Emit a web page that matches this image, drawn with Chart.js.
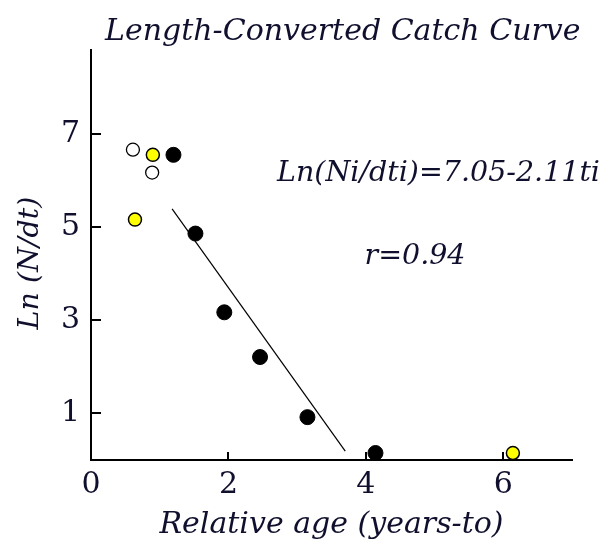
<!DOCTYPE html>
<html>
<head>
<meta charset="utf-8">
<script src="https://cdn.jsdelivr.net/npm/chart.js@4"></script>
<style>
html,body{margin:0;padding:0;background:#fff;}
#c{display:block;}
</style>
</head>
<body>
<canvas id="c" width="608" height="547"></canvas>
<script>
// ---- data ----
const blackAge = [1.20, 1.52, 1.94, 2.46, 3.15, 4.14];
const blackLn  = [6.55, 4.86, 3.17, 2.21, 0.92, 0.15];
const yellowAge = [0.90, 0.64, 6.14];
const yellowLn  = [6.55, 5.16, 0.15];
const openAge = [0.61, 0.89];
const openLn  = [6.66, 6.17];
const fitAge = [1.18, 3.70];
const fitLn  = [5.39, 0.19];
const xTicks = [0, 2, 4, 6];
const yTicks = [1, 3, 5, 7];
const titleText = 'Length-Converted Catch Curve';
const equationText = 'Ln(Ni/dti)=7.05-2.11ti';
const rText = 'r=0.94';
const xTitle = 'Relative age (years-to)';
const yTitle = 'Ln (N/dt)';

const pts = (xs, ys) => xs.map((x, i) => ({x, y: ys[i]}));
const TXT = '#10102e';
const SERIF = '"DejaVu Serif", "Liberation Serif", serif';

const annot = {
  id: 'annot',
  afterDatasetsDraw(chart) {
    const ctx = chart.ctx;
    const xs = chart.scales.x, ys = chart.scales.y;
    ctx.save();
    // inward ticks
    ctx.strokeStyle = '#000';
    ctx.lineWidth = 2;
    ctx.beginPath();
    yTicks.forEach(v => {
      const p = Math.round(ys.getPixelForValue(v));
      ctx.moveTo(xs.left, p); ctx.lineTo(xs.left + 10, p);
    });
    xTicks.forEach(v => {
      if (v === 0) return;
      const p = Math.round(xs.getPixelForValue(v));
      ctx.moveTo(p, ys.bottom); ctx.lineTo(p, ys.bottom - 8);
    });
    ctx.stroke();
    // texts
    ctx.fillStyle = TXT;
    ctx.textBaseline = 'alphabetic';
    ctx.textAlign = 'left';
    ctx.font = 'italic 30px ' + SERIF;
    ctx.fillText(titleText, 105, 40);
    ctx.font = 'italic 28.5px ' + SERIF;
    ctx.fillText(equationText, 277, 181);
    ctx.textAlign = 'center';
    ctx.fillText(rText, 415, 264);
    // y axis title
    ctx.save();
    ctx.translate(31, 263);
    ctx.rotate(-Math.PI / 2);
    ctx.textBaseline = 'middle';
    ctx.textAlign = 'center';
    ctx.font = 'italic 28.5px ' + SERIF;
    ctx.fillText(yTitle, 0, 0);
    ctx.restore();
    ctx.restore();
  }
};

new Chart(document.getElementById('c'), {
  type: 'scatter',
  data: {
    datasets: [
      {
        type: 'line', label: 'fit', data: pts(fitAge, fitLn),
        borderColor: '#000', borderWidth: 1.2, pointRadius: 0, fill: false, clip: false
      },
      {
        label: 'used', data: pts(blackAge, blackLn),
        backgroundColor: '#000', borderColor: '#000', borderWidth: 1, pointRadius: 7.5, clip: false
      },
      {
        label: 'yellow', data: pts(yellowAge, yellowLn),
        backgroundColor: '#ffff00', borderColor: '#000', borderWidth: 1.5, pointRadius: 6.5, clip: false
      },
      {
        label: 'open', data: pts(openAge, openLn),
        backgroundColor: '#fff', borderColor: '#000', borderWidth: 1.3, pointRadius: 6.5, clip: false
      }
    ]
  },
  options: {
    responsive: false,
    animation: false,
    devicePixelRatio: 1,
    layout: { padding: { top: 50, right: 36, left: 0, bottom: 0 } },
    plugins: { legend: { display: false }, tooltip: { enabled: false }, title: { display: false } },
    scales: {
      x: {
        type: 'linear', min: 0, max: 7,
        afterFit(s) { s.height = 87; },
        afterBuildTicks(s) { s.ticks = xTicks.map(v => ({value: v})); },
        grid: { display: true, drawOnChartArea: false, drawTicks: false },
        border: { display: true, color: '#000', width: 2 },
        ticks: { color: TXT, font: { family: SERIF, size: 30 }, padding: 7, maxRotation: 0, autoSkip: false },
        title: { display: true, text: xTitle, color: TXT, font: { family: SERIF, size: 30, style: 'italic' }, padding: { top: 0, bottom: 4 } }
      },
      y: {
        type: 'linear', min: 0, max: 8.8,
        afterFit(s) { s.width = 91; },
        afterBuildTicks(s) { s.ticks = yTicks.map(v => ({value: v})); },
        grid: { display: true, drawOnChartArea: false, drawTicks: false },
        border: { display: true, color: '#000', width: 2 },
        ticks: { color: TXT, font: { family: SERIF, size: 30 }, padding: 11, autoSkip: false },
        title: { display: false }
      }
    }
  },
  plugins: [annot]
});
</script>
</body>
</html>
